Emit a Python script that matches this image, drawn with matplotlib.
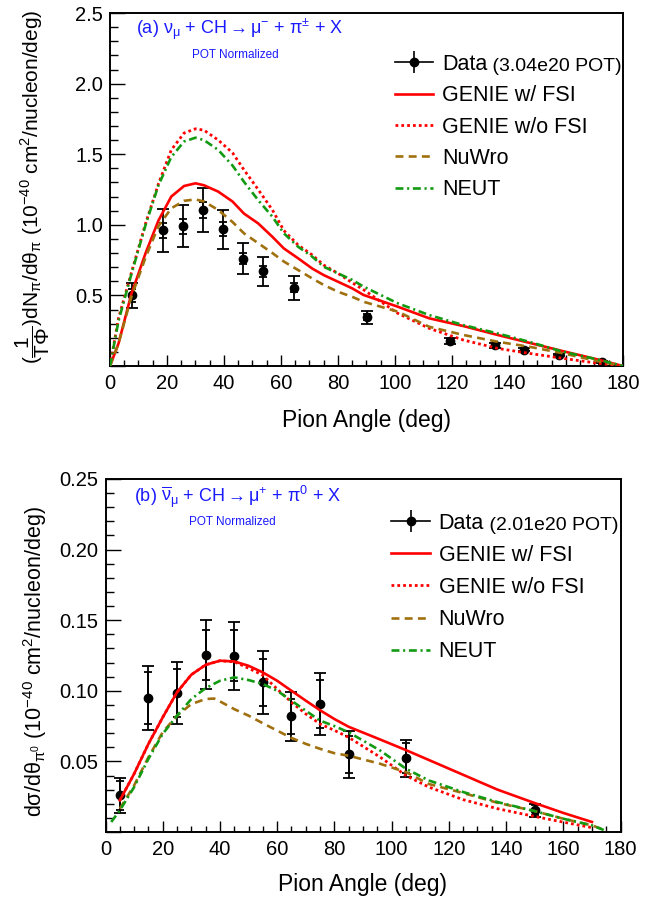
import matplotlib
matplotlib.use('Agg')
import matplotlib.pyplot as plt
from matplotlib.lines import Line2D
from matplotlib.ticker import MultipleLocator, FuncFormatter

plt.rcParams['font.family'] = ['Liberation Sans', 'DejaVu Sans']
plt.rcParams['mathtext.fontset'] = 'custom'
plt.rcParams['mathtext.rm'] = 'Liberation Sans'
plt.rcParams['mathtext.it'] = 'Liberation Sans:italic'
plt.rcParams['mathtext.bf'] = 'Liberation Sans:bold'
plt.rcParams['mathtext.default'] = 'regular'

# ---- panel (a): nu_mu CC pi+- ----
a_data_x = [7.6, 18.5, 25.5, 32.5, 39.5, 46.6, 53.7, 64.6, 90.2, 119.2, 135.2, 145.3, 157.6, 172.7]
a_data_y = [0.50, 0.96, 0.99, 1.105, 0.97, 0.76, 0.67, 0.555, 0.345, 0.177, 0.146, 0.116, 0.078, 0.03]
a_err_tot = [0.089, 0.15, 0.149, 0.159, 0.138, 0.111, 0.10, 0.084, 0.047, 0.02, 0.015, 0.012, 0.01, 0.008]
a_err_stat = [0.045, 0.055, 0.053, 0.054, 0.05, 0.039, 0.041, 0.03, 0.02, 0.01, 0.008, 0.007, 0.006, 0.005]

a_curve_x = [0, 3, 7.5, 12.5, 17, 21.5, 26, 30, 33, 38, 43, 47, 52, 57, 61, 66, 71, 75, 80, 85, 89,
             101, 112, 124, 136, 147, 159, 171, 180]
a_genie_fsi = [0, 0.16, 0.51, 0.80, 1.03, 1.20, 1.275, 1.294, 1.28, 1.235, 1.165, 1.08, 1.01, 0.915, 0.833,
               0.763, 0.69, 0.644, 0.597, 0.55, 0.503, 0.42, 0.338, 0.283, 0.22, 0.165, 0.105, 0.047, 0.0]
a_genie_nofsi = [0, 0.34, 0.66, 1.01, 1.29, 1.53, 1.65, 1.68, 1.67, 1.60, 1.51, 1.39, 1.25, 1.105, 0.96,
                 0.857, 0.786, 0.715, 0.656, 0.59, 0.54, 0.373, 0.267, 0.184, 0.125, 0.09, 0.054, 0.02, 0.0]
a_nuwro = [0, 0.16, 0.49, 0.77, 0.99, 1.117, 1.17, 1.18, 1.165, 1.105, 1.02, 0.94, 0.87, 0.80, 0.74,
           0.68, 0.62, 0.574, 0.526, 0.49, 0.455, 0.385, 0.278, 0.22, 0.172, 0.137, 0.09, 0.035, 0.0]
a_neut = [0, 0.32, 0.65, 1.00, 1.28, 1.48, 1.59, 1.617, 1.60, 1.53, 1.42, 1.305, 1.175, 1.057, 0.94,
          0.845, 0.774, 0.703, 0.656, 0.61, 0.562, 0.444, 0.361, 0.29, 0.231, 0.172, 0.101, 0.047, 0.0]

# ---- panel (b): anti-nu_mu CC pi0 ----
b_data_x = [5, 15, 25, 35, 45, 55, 65, 75, 85, 105, 150]
b_data_y = [0.0259, 0.0949, 0.0984, 0.1255, 0.1248, 0.106, 0.0819, 0.0907, 0.0549, 0.0523, 0.0153]
b_err_tot = [0.0126, 0.023, 0.0218, 0.0244, 0.0241, 0.0224, 0.0174, 0.0221, 0.0168, 0.0132, 0.0047]
b_err_stat = [0.01, 0.0185, 0.0167, 0.0177, 0.0182, 0.0168, 0.0124, 0.0171, 0.0133, 0.0104, 0.0035]

b_genie_x = [5, 10, 15, 20, 25, 30, 35, 40, 45, 50, 55, 60, 65, 70, 75, 80, 85, 96, 105, 113, 125, 137,
             150, 160, 170]
b_genie_fsi = [0.0224, 0.0412, 0.0624, 0.0812, 0.099, 0.1114, 0.1184, 0.1213, 0.1208, 0.1177, 0.113, 0.1071,
               0.100, 0.093, 0.0862, 0.0800, 0.0745, 0.0655, 0.0580, 0.0510, 0.0405, 0.0300, 0.0205, 0.0135,
               0.0071]
b_genie_nofsi = [0.0224, 0.0412, 0.0624, 0.0812, 0.099, 0.1114, 0.1184, 0.1213, 0.1205, 0.116, 0.111, 0.1012,
                 0.0919, 0.0836, 0.0765, 0.072, 0.067, 0.053, 0.040, 0.0318, 0.0229, 0.0165, 0.011, 0.007, 0.0031]
b_model_x = [2, 5, 10, 15, 20, 25, 30, 35, 40, 45, 50, 55, 60, 65, 70, 75, 80, 85, 96, 105, 113, 125, 137,
             150, 160, 170, 175]
b_neut = [0.0071, 0.0153, 0.0318, 0.0518, 0.0695, 0.0824, 0.0942, 0.1019, 0.1071, 0.1095, 0.1076, 0.1048,
          0.100, 0.093, 0.0859, 0.0789, 0.075, 0.0706, 0.0577, 0.0448, 0.0365, 0.0283, 0.0212, 0.0148,
          0.0094, 0.0047, 0.0007]
b_nuwro_x = [5, 10, 15, 20, 25, 30, 35, 38, 40, 45, 50, 55, 60, 65, 70, 75, 80, 85, 96, 105, 113, 125, 137,
             150, 160, 170, 175]
b_nuwro = [0.0165, 0.033, 0.053, 0.0707, 0.0824, 0.0906, 0.0942, 0.0945, 0.0925, 0.087, 0.0824, 0.077,
           0.0718, 0.0666, 0.0624, 0.0589, 0.0558, 0.054, 0.0483, 0.0424, 0.034, 0.0276, 0.0207, 0.0148,
           0.0094, 0.0047, 0.001]

RED = '#ff0000'
BROWN = '#a0700f'
GREEN = '#139a13'
BLUE = '#1a1aff'
model_labels = ['GENIE w/ FSI', 'GENIE w/o FSI', 'NuWro', 'NEUT']


def style_axis(ax, ymax, ymajor, yminor, fmt):
    ax.set_xlim(0, 180)
    ax.set_ylim(0, ymax)
    ax.xaxis.set_major_locator(MultipleLocator(20))
    ax.xaxis.set_minor_locator(MultipleLocator(5))
    ax.yaxis.set_major_locator(MultipleLocator(ymajor))
    ax.yaxis.set_minor_locator(MultipleLocator(yminor))
    ax.yaxis.set_major_formatter(FuncFormatter(lambda v, p: '' if abs(v) < 1e-9 else fmt % v))
    ax.tick_params(axis='both', which='both', direction='in', top=False, right=False,
                   labelsize=14.5, width=1.0, colors='black')
    ax.tick_params(axis='y', which='major', length=10.8, pad=5)
    ax.tick_params(axis='y', which='minor', length=5.4)
    ax.tick_params(axis='x', which='major', length=8, pad=6)
    ax.tick_params(axis='x', which='minor', length=4.3)
    for s in ax.spines.values():
        s.set_linewidth(1.4)


def draw_panel(ax, dx, dy, etot, estat, curves, pot_label, leg_top, spacing):
    ax.errorbar(dx, dy, yerr=etot, fmt='none', ecolor='k', elinewidth=1.3, capsize=4, capthick=1.3, zorder=3)
    ax.errorbar(dx, dy, yerr=estat, fmt='none', ecolor='k', elinewidth=1.3, capsize=3, capthick=1.3, zorder=3)
    ax.plot(dx, dy, 'o', color='k', ms=6, zorder=3)
    styles = [dict(color=RED, ls='-', lw=1.9),
              dict(color=RED, ls=(0, (1, 1.1)), lw=2.0),
              dict(color=BROWN, ls=(0, (3, 2)), lw=1.9),
              dict(color=GREEN, ls=(0, (3, 1.4, 0.8, 1.4)), lw=1.9)]
    handles = []
    for (cx, cy), st in zip(curves, styles):
        ln, = ax.plot(cx, cy, zorder=4, **st)
        handles.append(ln)
    data_h = (Line2D([], [], color='k', lw=1.2),
              Line2D([], [], ls='none', marker='|', ms=16, mew=1.2, color='k'),
              Line2D([], [], ls='none', marker='o', ms=6, color='k'))
    leg = ax.legend([data_h] + handles, ['Data'] + model_labels, loc='upper left',
                    bbox_to_anchor=(0.555, leg_top), frameon=False, fontsize=15.5,
                    handlelength=1.78, handletextpad=0.42, labelspacing=spacing,
                    borderpad=0, borderaxespad=0)
    ax.annotate(' ' + pot_label, xy=(1, 0), xycoords=leg.get_texts()[0], fontsize=14,
                ha='left', va='bottom', zorder=10)
    return leg


fig = plt.figure(figsize=(6.57, 8.98), dpi=100)

ax1 = fig.add_axes([0.1674, 0.5924, 0.7808, 0.3931])
style_axis(ax1, 2.5, 0.5, 0.1, '%.1f')
draw_panel(ax1, a_data_x, a_data_y, a_err_tot, a_err_stat,
           [(a_curve_x, a_genie_fsi), (a_curve_x, a_genie_nofsi), (a_curve_x, a_nuwro), (a_curve_x, a_neut)],
           '(3.04e20 POT)', 0.884, 0.48)
ax1.text(0.05, 0.9425, r'(a) $\nu_{\mu}$ + CH$\rightarrow$$\mu^{-}$ + $\pi^{\pm}$ + X',
         transform=ax1.transAxes, color=BLUE, fontsize=13, ha='left', va='baseline')
ax1.text(0.159, 0.873, 'POT Normalized', transform=ax1.transAxes, color=BLUE, fontsize=8.5,
         ha='left', va='baseline')

ax2 = fig.add_axes([0.1606, 0.0735, 0.7839, 0.3931])
style_axis(ax2, 0.25, 0.05, 0.01, '%.2f')
draw_panel(ax2, b_data_x, b_data_y, b_err_tot, b_err_stat,
           [(b_genie_x, b_genie_fsi), (b_genie_x, b_genie_nofsi), (b_nuwro_x, b_nuwro), (b_model_x, b_neut)],
           '(2.01e20 POT)', 0.905, 0.52)
ax2.text(0.055, 0.935, r'(b) $\overline{\nu}_{\mu}$ + CH$\rightarrow$$\mu^{+}$ + $\pi^{0}$ + X',
         transform=ax2.transAxes, color=BLUE, fontsize=13, ha='left', va='baseline')
ax2.text(0.162, 0.87, 'POT Normalized', transform=ax2.transAxes, color=BLUE, fontsize=8.5,
         ha='left', va='baseline')

fig.text(366.5 / 657, 1 - 420 / 898, 'Pion Angle (deg)', ha='center', va='center', fontsize=16.5)
fig.text(363 / 657, 1 - 884 / 898, 'Pion Angle (deg)', ha='center', va='center', fontsize=16.5)
fig.text(33 / 657, 1 - 187 / 898,
         r'$(\dfrac{1}{T\Phi})$dN$_{\pi}$/d$\theta_{\pi}$ (10$^{-40}$ cm$^{2}$/nucleon/deg)',
         rotation=90, ha='center', va='center', fontsize=15)
fig.text(35 / 657, 1 - 662 / 898,
         r'd$\sigma$/d$\theta_{\pi^{0}}$ (10$^{-40}$ cm$^{2}$/nucleon/deg)',
         rotation=90, ha='center', va='center', fontsize=15.5)

fig.canvas.draw()
fig.savefig('out.png', dpi=100)
